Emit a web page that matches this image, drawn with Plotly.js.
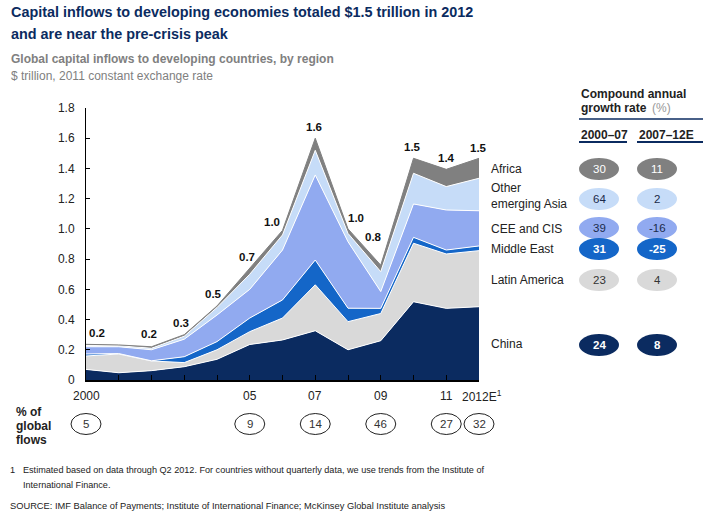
<!DOCTYPE html>
<html><head><meta charset="utf-8">
<script src="https://cdn.plot.ly/plotly-3.0.1.min.js"></script>
<style>html,body{margin:0;padding:0;background:#fff}#chart{width:703px;height:512px}</style>
</head><body><div id="chart"></div>
<script>
// ---------------- DATA ----------------
const years = [2000, 2001, 2002, 2003, 2004, 2005, 2006, 2007, 2008, 2009, 2010, 2011, 2012];
const china        = [0.070, 0.048, 0.062, 0.088, 0.137, 0.235, 0.265, 0.326, 0.200, 0.260, 0.518, 0.474, 0.485];
const latinAmerica = [0.089, 0.124, 0.064, 0.027, 0.063, 0.085, 0.145, 0.304, 0.186, 0.180, 0.387, 0.360, 0.371];
const middleEast   = [0.013, 0.003, 0.001, 0.039, 0.054, 0.090, 0.120, 0.164, 0.089, 0.034, 0.039, 0.026, 0.031];
const ceeCis       = [0.048, 0.045, 0.073, 0.116, 0.176, 0.190, 0.330, 0.563, 0.440, 0.111, 0.221, 0.265, 0.233];
const otherAsia    = [0.008, 0.007, 0.010, 0.020, 0.050, 0.100, 0.100, 0.163, 0.055, 0.132, 0.203, 0.155, 0.215];
const africa       = [0.008, 0.005, 0.010, 0.010, 0.010, 0.040, 0.030, 0.080, 0.030, 0.043, 0.099, 0.114, 0.132];
const totalLabels  = ['0.2', '', '0.2', '0.3', '0.5', '0.7', '1.0', '1.6', '1.0', '0.8', '1.5', '1.4', '1.5'];

const xLabelYears = [2000, 2005, 2007, 2009, 2011, 2012];
const xLabelText  = ['2000', '05', '07', '09', '11', '2012E<sup>1</sup>'];
const yTickVals = [0, 0.2, 0.4, 0.6, 0.8, 1.0, 1.2, 1.4, 1.6, 1.8];
const yTickText = ['0', '0.2', '0.4', '0.6', '0.8', '1.0', '1.2', '1.4', '1.6', '1.8'];

const regionNames = ['Africa', 'Other<br>emerging Asia', 'CEE and CIS', 'Middle East', 'Latin America', 'China'];
const cagr2000_07 = ['30', '64', '39', '31', '23', '24'];
const cagr2007_12 = ['11', '2', '-16', '-25', '4', '8'];

const flowYears  = [2000, 2005, 2007, 2009, 2011, 2012];
const flowShares = ['5', '9', '14', '46', '27', '32'];

// ---------------- STYLE / LAYOUT ----------------
const FONT = 'Liberation Sans, Arial, Helvetica, sans-serif';
const NAVY = '#0b2b60';
const colors = {
  china: '#0b2b60', latin: '#d9d9d9', me: '#1466c8', cee: '#91aaf0', oa: '#c6dcf8', africa: '#808080'
};
const X_RANGE = [2000, 2012];
const L = 86, R = 479, T = 108, B = 380;
const px = x => (x - L) / (R - L);
const py = y => (B - y) / (B - T);
const xToPaper = v => (v - X_RANGE[0]) / (X_RANGE[1] - X_RANGE[0]);

function area(name, vals, fill, lineColor) {
  return {
    type: 'scatter', mode: 'lines', name: name, x: years, y: vals,
    stackgroup: 'one', fillcolor: fill,
    line: { color: lineColor || '#ffffff', width: 1, shape: 'linear' },
    hoverinfo: 'skip'
  };
}
const traces = [
  area('China', china, colors.china),
  area('Latin America', latinAmerica, colors.latin),
  area('Middle East', middleEast, colors.me),
  area('CEE and CIS', ceeCis, colors.cee),
  area('Other emerging Asia', otherAsia, colors.oa),
  area('Africa', africa, colors.africa, colors.africa)
];

const totals = years.map((_, i) => china[i] + latinAmerica[i] + middleEast[i] + ceeCis[i] + otherAsia[i] + africa[i]);

const annotations = [];
const shapes = [];
function txt(text, x, y, opts) {
  opts = opts || {};
  annotations.push({
    text: text, xref: 'paper', yref: 'paper', x: px(x), y: py(y),
    xanchor: opts.xanchor || 'left', yanchor: 'middle', showarrow: false,
    align: opts.align || 'left',
    font: { family: FONT, size: opts.size || 12, color: opts.color || '#222' }
  });
}

// Titles
txt('<b>Capital inflows to developing economies totaled $1.5 trillion in 2012</b>', 9, 12, { size: 14.4, color: NAVY });
txt('<b>and are near the pre-crisis peak</b>', 9, 34, { size: 14.4, color: NAVY });
txt('<b>Global capital inflows to developing countries, by region</b>', 9, 58.5, { size: 12, color: '#808080' });
txt('$ trillion, 2011 constant exchange rate', 9, 75.5, { size: 12, color: '#808080' });

// Total labels above the stack
const labelDx = [11, 0, -3, -3, -4, -3, -11, -1, 8, -7, -1, 0, -1];
const labelDy = [11, 0, 13, 12, 12, 11, 8, 11, 11, 28, 11, 11, 10];
years.forEach((yr, i) => {
  if (!totalLabels[i]) return;
  annotations.push({
    text: '<b>' + totalLabels[i] + '</b>', x: yr, y: totals[i], xref: 'x', yref: 'y',
    xanchor: 'center', yanchor: 'middle', showarrow: false,
    xshift: labelDx[i], yshift: labelDy[i],
    font: { family: FONT, size: 11.5, color: '#111' }
  });
});

// Right-hand panel header
txt('<b>Compound annual</b>', 579, 94, { size: 12, color: '#222' });
txt('<b>growth rate</b>', 579, 108, { size: 12, color: '#222' });
txt('(%)', 650, 108, { size: 12, color: '#999' });
txt('<b>2000–07</b>', 579, 135, { size: 12, color: '#222' });
txt('<b>2007–12E</b>', 637, 135, { size: 12, color: '#222' });
shapes.push({ type: 'line', xref: 'paper', yref: 'paper', x0: px(579), x1: px(703), y0: py(119), y1: py(119), line: { color: NAVY, width: 1.5 } });
shapes.push({ type: 'line', xref: 'paper', yref: 'paper', x0: px(579), x1: px(627), y0: py(142), y1: py(142), line: { color: NAVY, width: 2 } });
shapes.push({ type: 'line', xref: 'paper', yref: 'paper', x0: px(637), x1: px(703), y0: py(142), y1: py(142), line: { color: NAVY, width: 2 } });

// Legend rows with CAGR ellipses
const rowY = [169, 199, 228, 249, 280, 345];
const labelY = [[169], [188, 203.5], [228.5], [249], [280], [344]];
const rowFill = [colors.africa, colors.oa, colors.cee, colors.me, colors.latin, colors.china];
const rowText = ['#ffffff', '#1b2a4a', '#1b2a4a', '#ffffff', '#333333', '#ffffff'];
const rowBold = [false, false, false, true, false, true];
regionNames.forEach((name, i) => {
  const parts = name.split('<br>');
  parts.forEach((p, k) => txt(p, 489, labelY[i][k], { size: 12, color: '#222' }));
  [[599, cagr2000_07[i]], [657, cagr2007_12[i]]].forEach(([cx, v]) => {
    shapes.push({
      type: 'circle', xref: 'paper', yref: 'paper',
      xsizemode: 'pixel', ysizemode: 'pixel', xanchor: px(cx), yanchor: py(rowY[i]),
      x0: -20, x1: 20, y0: -11, y1: 11,
      fillcolor: rowFill[i], line: { width: 0 }
    });
    txt(rowBold[i] ? '<b>' + v + '</b>' : v, cx, rowY[i], { size: 11.5, color: rowText[i], xanchor: 'center', align: 'center' });
  });
});

// X tick labels (only selected years carry text)
xLabelYears.forEach((yr, i) => {
  annotations.push({
    text: xLabelText[i], x: yr, xref: 'x', yref: 'paper', y: py(396),
    xanchor: 'center', yanchor: 'middle', showarrow: false,
    xshift: yr === 2012 ? 3 : 0,
    font: { family: FONT, size: 12, color: '#222' }
  });
});

// % of global flows row
txt('<b>% of</b>', 14, 412, { size: 12, color: '#222' });
txt('<b>global</b>', 14, 426, { size: 12, color: '#222' });
txt('<b>flows</b>', 14, 439.5, { size: 12, color: '#222' });
flowYears.forEach((yr, i) => {
  shapes.push({
    type: 'circle', xref: 'paper', yref: 'paper',
    xsizemode: 'pixel', ysizemode: 'pixel', xanchor: xToPaper(yr), yanchor: py(424),
    x0: -15, x1: 15, y0: -10.5, y1: 10.5,
    fillcolor: 'rgba(255,255,255,0)', line: { color: '#222', width: 1 }
  });
  annotations.push({
    text: flowShares[i], x: yr, xref: 'x', yref: 'paper', y: py(424),
    xanchor: 'center', yanchor: 'middle', showarrow: false,
    font: { family: FONT, size: 11.5, color: '#333' }
  });
});

// Footnotes
txt('1', 8, 469.5, { size: 9.2, color: '#222' });
txt('Estimated based on data through Q2 2012. For countries without quarterly data, we use trends from the Institute of', 21, 469.5, { size: 9.1, color: '#222' });
txt('International Finance.', 21, 484.5, { size: 9.1, color: '#222' });
txt('SOURCE: IMF Balance of Payments; Institute of International Finance; McKinsey Global Institute analysis', 8, 505.5, { size: 9.3, color: '#222' });

const layout = {
  width: 703, height: 512,
  margin: { l: L, r: 703 - R, t: T, b: 512 - B, autoexpand: false },
  paper_bgcolor: '#ffffff', plot_bgcolor: '#ffffff',
  showlegend: false,
  font: { family: FONT, size: 12, color: '#222' },
  xaxis: {
    range: X_RANGE, tickmode: 'linear', tick0: 2000, dtick: 1, showticklabels: false,
    showgrid: false, zeroline: false, showline: true, linecolor: '#000', linewidth: 2,
    ticks: 'inside', ticklen: 5, tickcolor: '#000', tickwidth: 1, fixedrange: true
  },
  yaxis: {
    range: [0, 1.8], tickmode: 'array', tickvals: yTickVals, ticktext: yTickText,
    showgrid: false, zeroline: false, showline: true, linecolor: '#000', linewidth: 1,
    ticks: 'inside', ticklen: 4, tickcolor: '#000', tickwidth: 1,
    tickfont: { family: FONT, size: 12, color: '#222' }, ticklabelstandoff: 8, fixedrange: true
  },
  annotations: annotations,
  shapes: shapes
};

Plotly.newPlot('chart', traces, layout, { staticPlot: true, displayModeBar: false });
</script>
</body></html>
